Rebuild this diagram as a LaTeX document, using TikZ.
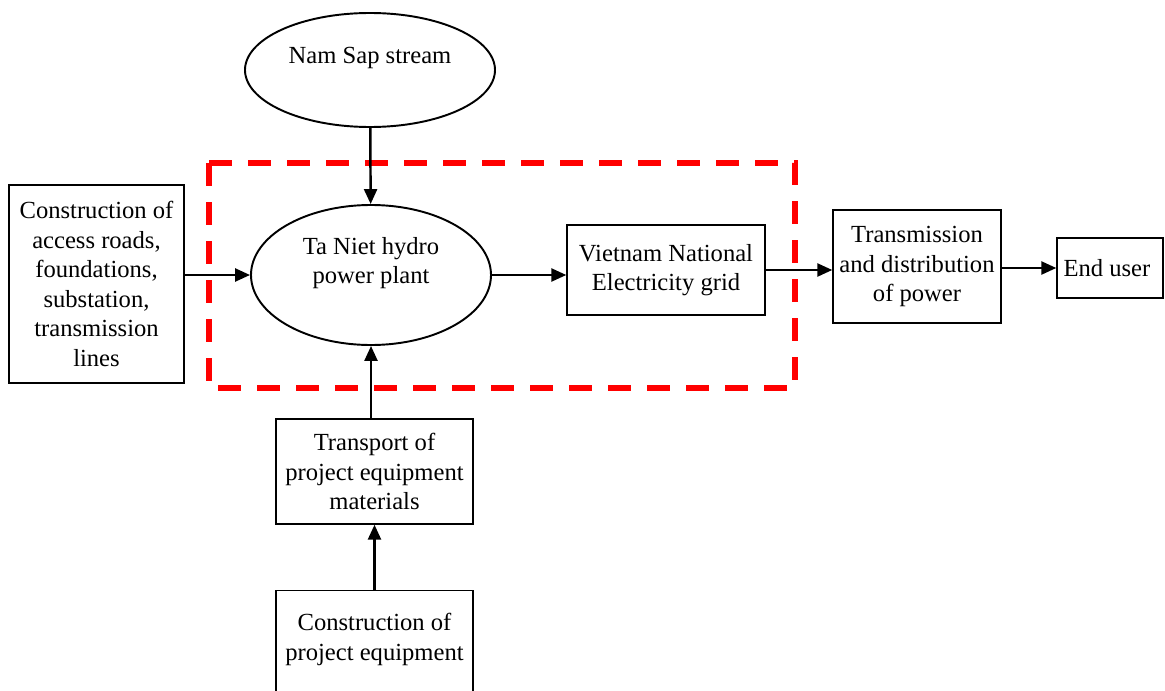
\documentclass[tikz,border=0pt]{standalone}
\usepackage{fontspec}
\setmainfont{Liberation Serif}
\usepackage{tikz}
\usetikzlibrary{shapes,arrows.meta,positioning,calc}
\usepackage{xcolor}

\begin{document}
\begin{tikzpicture}[
    every node/.style={font=\fontsize{14}{16.8}\selectfont},
    stepbox/.style={
        rectangle,
        draw,
        line width=0.8pt,
        align=center,
        inner sep=2pt
    },
    oval/.style={
        ellipse,
        draw,
        line width=1.1pt,
        align=center,
        inner sep=0pt
    },
    flow/.style={
        -{Triangle[length=3mm,width=2.6mm]},
        line width=1.4pt
    },
    boundary/.style={
        draw=red,
        line width=3pt,
        dash pattern=on 0.46cm off 0.32cm
    }
]
\useasboundingbox (0,0) rectangle (23.30,-13.80);

% Source and the plant
\node[oval, minimum width=5.0cm, minimum height=2.28cm] (stream) at (7.40,-1.40) {
    Nam Sap stream\\\mbox{}
};

\node[oval, minimum width=4.8cm, minimum height=2.8cm] (plant) at (7.42,-5.50) {
    Ta Niet hydro\\
    power plant\\\mbox{}
};

% Boxes along the chain
\node[stepbox, minimum width=3.5cm, minimum height=3.96cm] (works) at (1.93,-5.68) {
    Construction of\\
    access roads,\\
    foundations,\\
    substation,\\
    transmission\\
    lines
};

\node[stepbox, minimum width=3.96cm, minimum height=1.8cm] (grid) at (13.32,-5.40) {
    Vietnam National\\
    Electricity grid
};

\node[stepbox, minimum width=3.36cm, minimum height=2.26cm] (power) at (18.34,-5.33) {
    Transmission\\
    and distribution\\
    of power
};

\node[stepbox, minimum width=2.12cm, minimum height=1.2cm] (user) at (22.20,-5.36) {
    End user
};

\node[stepbox, minimum width=3.94cm, minimum height=2.1cm] (transport) at (7.49,-9.43) {
    Transport of\\
    project equipment\\
    materials
};

\node[stepbox, minimum width=3.94cm, inner ysep=0.45cm, anchor=north] (equip) at (7.49,-11.80) {
    Construction of\\
    project equipment\\\mbox{}
};

% Project boundary
\draw[boundary] (4.18,-3.26) rectangle (15.90,-7.76);

% Arrows
\draw[flow] (stream) -- (plant);
\draw[flow] (plant.west -| works.east) -- (plant.west);
\draw[flow] (plant.east) -- (plant.east -| grid.west);
\draw[flow] (grid.east) -- (grid.east -| power.west);
\draw[flow] (power.east |- user.west) -- (user.west);
\draw[flow] (transport.north -| plant.south) -- (plant.south);
\draw[flow] (equip.north) -- (transport.south);

\end{tikzpicture}
\end{document}
